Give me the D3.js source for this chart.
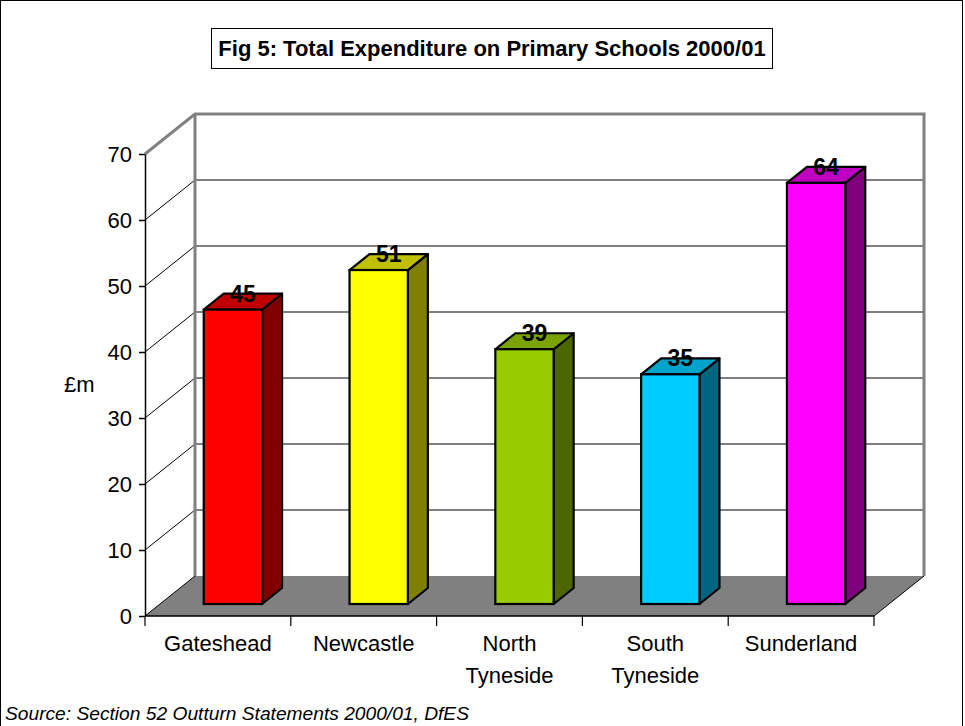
<!DOCTYPE html>
<html><head><meta charset="utf-8">
<script src="https://cdn.jsdelivr.net/npm/d3@7"></script>
<style>body{margin:0;background:#fff}svg{display:block}</style>
</head><body><svg id="c" width="965" height="726"></svg>
<script>
const categories = ["Gateshead", "Newcastle", "North Tyneside", "South Tyneside", "Sunderland"];
const values = [44.6, 50.6, 38.6, 34.8, 63.8];
const frontColors = ["#FF0000", "#FFFF00", "#99CC00", "#00CCFF", "#FF00FF"];
const sideColors = ["#800000", "#808000", "#4D6600", "#006680", "#800080"];
const topColors = ["#C00000", "#C0C000", "#7AA300", "#00A3CC", "#C000C0"];
const yTicks = [0, 10, 20, 30, 40, 50, 60, 70];
const titleText = "Fig 5: Total Expenditure on Primary Schools 2000/01";
const yAxisTitle = "£m";
const sourceText = "Source: Section 52 Outturn Statements 2000/01, DfES";

(function () {
const FONT = "'Liberation Sans', Arial, sans-serif";
const svg = d3.select("#c");
const X0 = 145, X1 = 874, DX = 50, DY = -40;
const x = d3.scaleBand().domain(categories).range([X0, X1]).paddingInner(0.6).paddingOuter(0.3);
const y = d3.scaleLinear().domain([0, 70]).range([616, 154]);
const off = t => [DX * t, DY * t];
const pts = a => a.map(p => p.join(",")).join(" ");

// outer frame
svg.append("rect").attr("x", 0.5).attr("y", 0.5).attr("width", 962).attr("height", 780)
  .attr("fill", "#fff").attr("stroke", "#000").attr("stroke-width", 1);

// floor
const fy = y(0);
svg.append("polygon")
  .attr("points", pts([[X0, fy], [X1, fy], [X1 + DX, fy + DY], [X0 + DX, fy + DY]]))
  .attr("fill", "#808080");
svg.append("line").attr("x1", X1).attr("y1", fy).attr("x2", X1 + DX).attr("y2", fy + DY).attr("stroke", "#000");
svg.append("line").attr("x1", X0).attr("y1", fy).attr("x2", X0 + DX).attr("y2", fy + DY).attr("stroke", "#000");

// gridlines
const inner = yTicks.filter(v => v > 0 && v < 70);
svg.append("g").selectAll("line").data(inner).join("line")
  .attr("x1", X0 + DX).attr("x2", X1 + DX)
  .attr("y1", d => y(d) + DY).attr("y2", d => y(d) + DY)
  .attr("stroke", "#000").attr("stroke-width", 1);
svg.append("g").selectAll("line").data(inner).join("line")
  .attr("x1", X0).attr("y1", d => y(d))
  .attr("x2", X0 + DX).attr("y2", d => y(d) + DY)
  .attr("stroke", "#000").attr("stroke-width", 1);

// wall borders (grey)
const yTop = y(70);
svg.append("polyline")
  .attr("points", pts([[X0, yTop], [X0 + DX, yTop + DY], [X1 + DX, yTop + DY], [X1 + DX, fy + DY]]))
  .attr("fill", "none").attr("stroke", "#808080").attr("stroke-width", 3);
svg.append("line").attr("x1", X0 + DX).attr("y1", yTop + DY).attr("x2", X0 + DX).attr("y2", fy + DY)
  .attr("stroke", "#808080").attr("stroke-width", 3);

// y axis
const yAxis = svg.append("g").attr("transform", `translate(${X0},0)`)
  .call(d3.axisLeft(y).tickValues(yTicks).tickSize(6).tickPadding(7).tickSizeOuter(0));
yAxis.select(".domain").attr("stroke", "#000").attr("stroke-width", 1.5);
yAxis.selectAll(".tick line").attr("stroke", "#000").attr("stroke-width", 1.5);
yAxis.selectAll(".tick text").attr("font-family", FONT).attr("font-size", 22).attr("fill", "#000");

// x axis
svg.append("line").attr("x1", X0).attr("x2", X1).attr("y1", fy).attr("y2", fy).attr("stroke", "#000").attr("stroke-width", 1.5);
const bounds = d3.range(categories.length + 1).map(i => X0 + i * x.step());
svg.append("g").selectAll("line").data(bounds).join("line")
  .attr("x1", d => d).attr("x2", d => d).attr("y1", fy).attr("y2", fy + 10)
  .attr("stroke", "#000").attr("stroke-width", 1.2);
const xl = svg.append("g").selectAll("text").data(categories).join("text")
  .attr("x", d => x(d) + x.bandwidth() / 2).attr("y", 651)
  .attr("text-anchor", "middle").attr("font-family", FONT).attr("font-size", 22).attr("fill", "#000");
xl.each(function (d) {
  const words = d.split(" ");
  d3.select(this).selectAll("tspan").data(words).join("tspan")
    .attr("x", x(d) + x.bandwidth() / 2).attr("dy", (w, i) => i === 0 ? 0 : 32).text(w => w);
});

// bars
const [f0x, f0y] = off(0.3), [b0x, b0y] = off(0.7);
const ddx = b0x - f0x, ddy = b0y - f0y;
svg.append("g").selectAll("g").data(categories).join("g").each(function (c, i) {
  const g = d3.select(this);
  const bx = x(c) + f0x, bw = x.bandwidth();
  const yb = y(0) + f0y, yt = y(values[i]) + f0y;
  g.append("polygon").attr("points", pts([[bx + bw, yt], [bx + bw + ddx, yt + ddy], [bx + bw + ddx, yb + ddy], [bx + bw, yb]]))
    .attr("fill", sideColors[i]).attr("stroke", "#000").attr("stroke-width", 2.2).attr("stroke-linejoin", "round");
  g.append("polygon").attr("points", pts([[bx, yt], [bx + ddx, yt + ddy], [bx + bw + ddx, yt + ddy], [bx + bw, yt]]))
    .attr("fill", topColors[i]).attr("stroke", "#000").attr("stroke-width", 2.2).attr("stroke-linejoin", "round");
  g.append("rect").attr("x", bx).attr("y", yt).attr("width", bw).attr("height", yb - yt)
    .attr("fill", frontColors[i]).attr("stroke", "#000").attr("stroke-width", 2.2);
  g.append("text").attr("x", bx + bw / 2 + ddx / 2).attr("y", yt - 8)
    .attr("text-anchor", "middle").attr("font-family", FONT).attr("font-size", 23).attr("font-weight", "bold")
    .attr("fill", "#000").text(d3.format(".0f")(values[i]));
});

// y axis title
svg.append("text").attr("x", 64).attr("y", 392).attr("font-family", FONT).attr("font-size", 22).attr("fill", "#000").text(yAxisTitle);

// title
svg.append("rect").attr("x", 211.5).attr("y", 28.5).attr("width", 561).attr("height", 40)
  .attr("fill", "#fff").attr("stroke", "#000").attr("stroke-width", 1);
svg.append("text").attr("x", 492).attr("y", 56).attr("text-anchor", "middle")
  .attr("font-family", FONT).attr("font-size", 22).attr("font-weight", "bold").attr("fill", "#000").text(titleText);

// source
svg.append("text").attr("x", 5).attr("y", 720).attr("font-family", FONT).attr("font-size", 19.2)
  .attr("font-style", "italic").attr("fill", "#000").text(sourceText);
})();
</script></body></html>
